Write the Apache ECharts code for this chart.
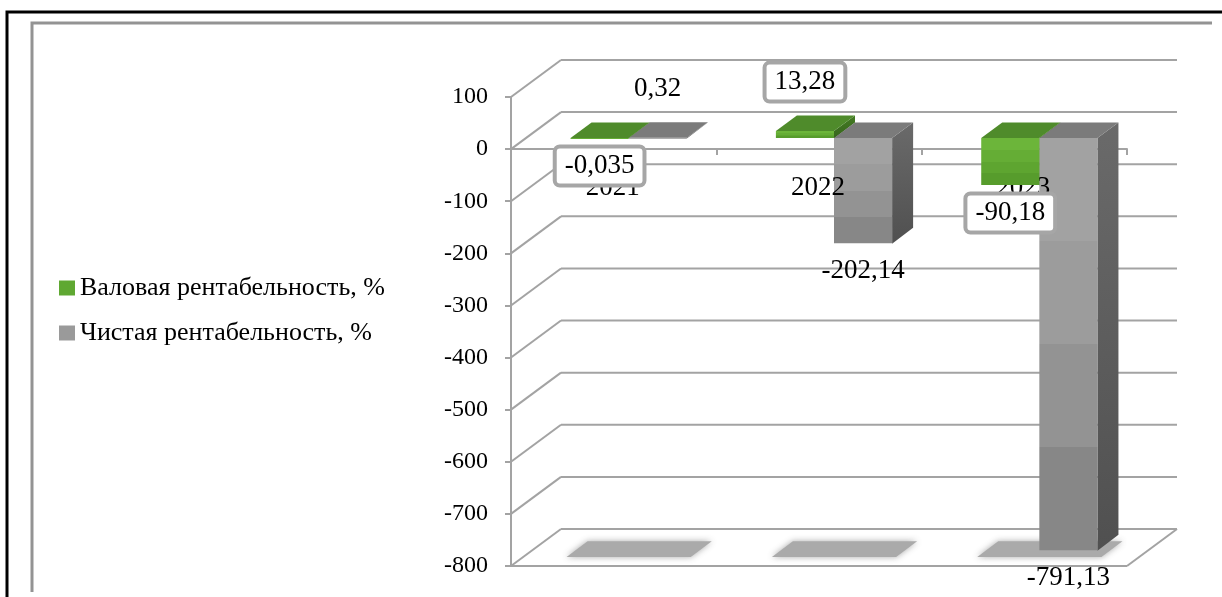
<!DOCTYPE html>
<html>
<head>
<meta charset="utf-8">
<script src="https://cdn.jsdelivr.net/npm/echarts/dist/echarts.min.js"></script>
<style>
  html, body { margin: 0; padding: 0; background: #fff; }
  #chart { width: 1222px; height: 597px; }
</style>
</head>
<body>
<div id="chart"></div>
<script>
// ---- data ----
const years = ['2021', '2022', '2023'];
const grossMargin = [-0.035, 13.28, -90.18];   // Валовая рентабельность, %
const netMargin = [0.32, -202.14, -791.13];    // Чистая рентабельность, %
const seriesNames = ['Валовая рентабельность, %', 'Чистая рентабельность, %'];
const yTicks = [100, 0, -100, -200, -300, -400, -500, -600, -700, -800];

// ---- drawing constants ----
const FONT = "'Liberation Serif', 'Times New Roman', serif";
const DX = 50, DY = -37;             // full depth of the walls (px)
const F_FRONT = 0.3, F_BACK = 0.72;  // depth slice occupied by the bars
const BAR_FRAC = 0.283;              // bar width as share of a category band
const GRID_COLOR = '#a3a3a3';

const yMin = yTicks[yTicks.length - 1], yMax = yTicks[0], yStep = 100;

const fmt = v => String(v).replace('.', ',');

function banded(cols) {
  const stops = [];
  cols.forEach((c, i) => {
    stops.push({ offset: i / cols.length, color: c });
    stops.push({ offset: (i + 1) / cols.length, color: c });
  });
  return { type: 'linear', x: 0, y: 0, x2: 0, y2: 1, colorStops: stops };
}

// z2 layering: net columns < year captions < gross columns < value labels
const palettes = {
  gross: {
    front: banded(['#6cb53a', '#65ad35', '#5ea530', '#579c2c']),
    top: '#4f8b2b',
    side: { type: 'linear', x: 0, y: 0, x2: 0, y2: 1, colorStops: [{ offset: 0, color: '#437a23' }, { offset: 1, color: '#37661c' }] },
    zSide: 0, zFront: 11, zTop: 12
  },
  net: {
    front: banded(['#a2a2a2', '#9c9c9c', '#939393', '#878787']),
    top: '#7b7b7b',
    side: { type: 'linear', x: 0, y: 0, x2: 0, y2: 1, colorStops: [{ offset: 0, color: '#6a6a6a' }, { offset: 1, color: '#505050' }] },
    zSide: 1, zFront: 2, zTop: 3
  }
};

// 3D-looking column: front face, right side face and top face, plus its value label
function makeBarRenderer(isLeft, pal, boxed) {
  return function (params, api) {
    const ci = api.value(0), v = api.value(1);
    const p0 = api.coord([ci, 0]);
    const pv = api.coord([ci, v]);
    const w = api.size([1, 0])[0] * BAR_FRAC;
    const ox = DX * F_FRONT, oy = DY * F_FRONT;
    const bx = DX * (F_BACK - F_FRONT), by = DY * (F_BACK - F_FRONT);
    const x0 = (isLeft ? p0[0] - w : p0[0]) + ox;
    const x1 = x0 + w;
    const yTop = Math.min(p0[1], pv[1]) + oy;
    const yBot = Math.max(p0[1], pv[1]) + oy;
    const h = Math.max(yBot - yTop, 1);
    const label = {
      type: 'text',
      z2: 100,
      x: x0 + w / 2,
      y: v < 0 ? yBot + 28 : yTop - 49,
      style: {
        text: fmt(v),
        fontFamily: FONT,
        fontSize: 27,
        fill: '#000',
        align: 'center',
        verticalAlign: 'middle'
      }
    };
    if (boxed) {
      Object.assign(label.style, {
        backgroundColor: '#fff',
        borderColor: '#a6a6a6',
        borderWidth: 4,
        borderRadius: 3,
        padding: [4, 8, 4, 8]
      });
    }
    return {
      type: 'group',
      children: [
        { type: 'polygon', z2: pal.zSide, shape: { points: [[x1, yTop], [x1 + bx, yTop + by], [x1 + bx, yBot + by], [x1, yBot + 0.5]] }, style: { fill: pal.side } },
        { type: 'rect', z2: pal.zFront, shape: { x: x0, y: yTop, width: w, height: h }, style: { fill: pal.front } },
        { type: 'polygon', z2: pal.zTop, shape: { points: [[x0, yTop], [x1, yTop], [x1 + bx, yTop + by], [x0 + bx, yTop + by]] }, style: { fill: pal.top } },
        label
      ]
    };
  };
}

// side wall diagonals, back wall grid lines and the floor outline
function renderFrame(params, api) {
  const cs = params.coordSys;
  const v = api.value(1);
  const y = api.coord([0, v])[1];
  const L = cs.x, R = cs.x + cs.width;
  const line = (a, b) => ({ type: 'line', shape: { x1: a[0], y1: a[1], x2: b[0], y2: b[1] }, style: { stroke: GRID_COLOR, lineWidth: 2 } });
  const children = [
    line([L, y], [L + DX, y + DY]),
    line([L + DX, y + DY], [R + DX, y + DY])
  ];
  if (v === yMin) {
    children.push(line([L, y], [R, y]));
    children.push(line([R, y], [R + DX, y + DY]));
  }
  return { type: 'group', children };
}

// soft footprint of each column pair on the floor
function renderFloor(params, api) {
  const ci = api.value(0);
  const p = api.coord([ci, yMin]);
  const w = api.size([1, 0])[0] * BAR_FRAC;
  const ox = DX * F_FRONT, oy = DY * F_FRONT;
  const bx = DX * (F_BACK - F_FRONT), by = DY * (F_BACK - F_FRONT);
  const xa = p[0] - w + ox - 4, xb = p[0] + w + ox + 4;
  const yf = p[1] + oy + 2;
  return {
    type: 'polygon',
    shape: { points: [[xa, yf], [xb, yf], [xb + bx, yf + by], [xa + bx, yf + by]] },
    style: { fill: '#aaaaaa', shadowBlur: 6, shadowColor: 'rgba(160,160,160,0.9)' }
  };
}

// year captions under the zero line
function renderCategory(params, api) {
  const ci = api.value(0);
  const p = api.coord([ci, 0]);
  return {
    type: 'text',
    z2: 5,
    x: p[0] - 1,
    y: p[1] + 39,
    style: { text: years[ci], fontFamily: FONT, fontSize: 27, fill: '#000', align: 'center', verticalAlign: 'middle' }
  };
}

const chart = echarts.init(document.getElementById('chart'), null, { renderer: 'canvas' });

chart.setOption({
  animation: false,
  backgroundColor: '#fff',
  textStyle: { fontFamily: FONT },
  graphic: [
    { type: 'polyline', shape: { points: [[7, 600], [7, 12], [1230, 12]] }, style: { stroke: '#000', lineWidth: 3, fill: null } },
    { type: 'polyline', shape: { points: [[32, 592], [32, 23], [1212, 23]] }, style: { stroke: '#939393', lineWidth: 3, fill: null } }
  ],
  legend: {
    data: seriesNames,
    orient: 'vertical',
    left: 59,
    top: 275,
    padding: 0,
    itemWidth: 16,
    itemHeight: 15,
    itemGap: 19,
    icon: 'rect',
    selectedMode: false,
    textStyle: { fontFamily: FONT, fontSize: 26, color: '#000' }
  },
  grid: { left: 511, top: 97, width: 616, height: 469, outerBoundsMode: 'none', containLabel: false },
  xAxis: {
    type: 'category',
    data: years,
    axisLine: { onZero: true, lineStyle: { color: GRID_COLOR, width: 2 } },
    axisTick: { show: true, length: 6, lineStyle: { color: GRID_COLOR, width: 2 } },
    axisLabel: { show: false },
    splitLine: { show: false }
  },
  yAxis: {
    type: 'value',
    min: yMin,
    max: yMax,
    interval: yStep,
    axisLine: { show: true, lineStyle: { color: GRID_COLOR, width: 2 } },
    axisTick: { show: true, length: 6, lineStyle: { color: GRID_COLOR, width: 2 } },
    axisLabel: { fontFamily: FONT, fontSize: 24, color: '#000', margin: 23 },
    splitLine: { show: false }
  },
  series: [
    {
      name: 'frame',
      type: 'custom',
      z: 1,
      clip: false,
      silent: true,
      renderItem: renderFrame,
      data: yTicks.map(v => [0, v])
    },
    {
      name: 'floor',
      type: 'custom',
      z: 1,
      clip: false,
      silent: true,
      renderItem: renderFloor,
      data: years.map((_, i) => [i, yMin])
    },
    {
      name: 'years',
      type: 'custom',
      z: 2,
      clip: false,
      silent: true,
      renderItem: renderCategory,
      data: years.map((_, i) => [i, 0])
    },
    {
      name: seriesNames[0],
      type: 'custom',
      z: 2,
      clip: false,
      itemStyle: { color: '#5fa832' },
      renderItem: makeBarRenderer(true, palettes.gross, true),
      data: grossMargin.map((v, i) => [i, v])
    },
    {
      name: seriesNames[1],
      type: 'custom',
      z: 2,
      clip: false,
      itemStyle: { color: '#9a9a9a' },
      renderItem: makeBarRenderer(false, palettes.net, false),
      data: netMargin.map((v, i) => [i, v])
    }
  ]
});
</script>
</body>
</html>
